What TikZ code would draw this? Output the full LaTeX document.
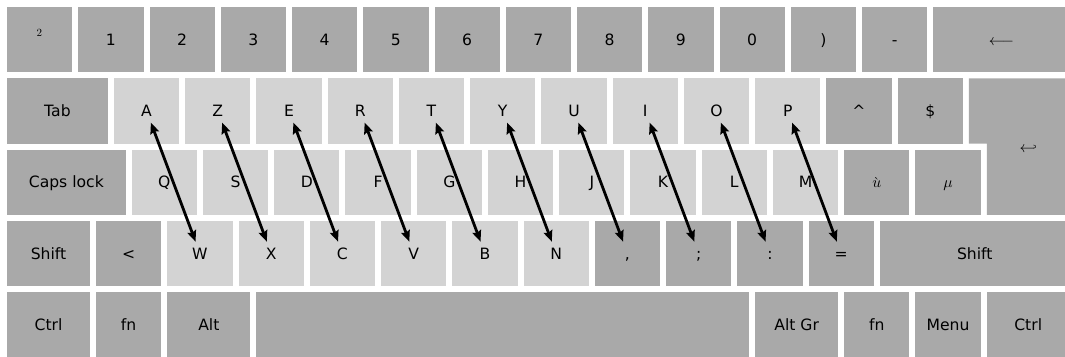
\documentclass[tikz,border=0pt]{standalone}
\usepackage{fontspec}
\setmainfont{DejaVu Sans}
\DeclareFontShape{OML}{cmm}{m}{it}{<->cmmi10}{}
\DeclareFontShape{OMS}{cmsy}{m}{n}{<->cmsy10}{}
\usetikzlibrary{arrows.meta}
\definecolor{keydark}{HTML}{A9A9A9}
\definecolor{keylight}{HTML}{D3D3D3}
\tikzset{
  keybox/.style={rectangle, inner sep=0pt, outer sep=0pt, draw=none, minimum height=65.25pt},
  keylabel/.style={font=\fontsize{15.6}{18}\selectfont, text=black, text height=11.4pt, text depth=0pt,
    inner sep=0pt, minimum height=23pt, minimum width=16pt},
  conn/.style={{Stealth[length=11pt,width=9pt,inset=1.5pt]}-{Stealth[length=11pt,width=9pt,inset=1.5pt]}, line width=2.8pt, black}
}
\newcommand\kbkey[6]{%
  \pgfmathsetmacro\kbxx{7+#2*71.25}%
  \pgfmathsetmacro\kbyy{7+#3*71.25}%
  \pgfmathsetmacro\kbww{#4*71.25-6}%
  \node[keybox, fill=#5, minimum width=\kbww pt, anchor=north west] (k#1) at (\kbxx,\kbyy) {};
  \node[keylabel] (#1) at (k#1.center) {#6};
}
\begin{document}
\begin{tikzpicture}[x=1pt, y=-1pt]
\useasboundingbox (0,0) rectangle (1065,356);
\clip (0,0) rectangle (1065,356);
% row 0
\kbkey{sq}{0}{0}{1}{keydark}{\raisebox{3pt}{$^2$}\hspace{2pt}}
\kbkey{n1}{1}{0}{1}{keydark}{1}
\kbkey{n2}{2}{0}{1}{keydark}{2}
\kbkey{n3}{3}{0}{1}{keydark}{3}
\kbkey{n4}{4}{0}{1}{keydark}{4}
\kbkey{n5}{5}{0}{1}{keydark}{5}
\kbkey{n6}{6}{0}{1}{keydark}{6}
\kbkey{n7}{7}{0}{1}{keydark}{7}
\kbkey{n8}{8}{0}{1}{keydark}{8}
\kbkey{n9}{9}{0}{1}{keydark}{9}
\kbkey{n0}{10}{0}{1}{keydark}{0}
\kbkey{rpar}{11}{0}{1}{keydark}{)}
\kbkey{minus}{12}{0}{1}{keydark}{-}
\kbkey{back}{13}{0}{2}{keydark}{$\longleftarrow$}
% row 1
\kbkey{tab}{0}{1}{1.5}{keydark}{Tab}
\kbkey{A}{1.5}{1}{1}{keylight}{A}
\kbkey{Z}{2.5}{1}{1}{keylight}{Z}
\kbkey{E}{3.5}{1}{1}{keylight}{E}
\kbkey{R}{4.5}{1}{1}{keylight}{R}
\kbkey{T}{5.5}{1}{1}{keylight}{T}
\kbkey{Y}{6.5}{1}{1}{keylight}{Y}
\kbkey{U}{7.5}{1}{1}{keylight}{U}
\kbkey{I}{8.5}{1}{1}{keylight}{I}
\kbkey{O}{9.5}{1}{1}{keylight}{O}
\kbkey{P}{10.5}{1}{1}{keylight}{P}
\kbkey{circ}{11.5}{1}{1}{keydark}{\textasciicircum}
\kbkey{dollar}{12.5}{1}{1}{keydark}{\$}
% enter
\fill[keydark] (968.9,78.25) -- (1069.75,78.25) -- (1069.75,214.75) -- (986.75,214.75)
  -- (986.75,143.5) -- (968.9,143.5) -- cycle;
\node[keylabel] (enter) at (1028.25,146.5) {$\hookleftarrow$};
% row 2
\kbkey{caps}{0}{2}{1.75}{keydark}{Caps lock}
\kbkey{Q}{1.75}{2}{1}{keylight}{Q}
\kbkey{S}{2.75}{2}{1}{keylight}{S}
\kbkey{D}{3.75}{2}{1}{keylight}{D}
\kbkey{F}{4.75}{2}{1}{keylight}{F}
\kbkey{G}{5.75}{2}{1}{keylight}{G}
\kbkey{H}{6.75}{2}{1}{keylight}{H}
\kbkey{J}{7.75}{2}{1}{keylight}{J}
\kbkey{K}{8.75}{2}{1}{keylight}{K}
\kbkey{L}{9.75}{2}{1}{keylight}{L}
\kbkey{M}{10.75}{2}{1}{keylight}{M}
\kbkey{ugrave}{11.75}{2}{1}{keydark}{$\grave{u}$}
\kbkey{mu}{12.75}{2}{1}{keydark}{$\mu$}
% row 3
\kbkey{lshift}{0}{3}{1.25}{keydark}{Shift}
\kbkey{less}{1.25}{3}{1}{keydark}{<}
\kbkey{W}{2.25}{3}{1}{keylight}{W}
\kbkey{X}{3.25}{3}{1}{keylight}{X}
\kbkey{C}{4.25}{3}{1}{keylight}{C}
\kbkey{V}{5.25}{3}{1}{keylight}{V}
\kbkey{B}{6.25}{3}{1}{keylight}{B}
\kbkey{N}{7.25}{3}{1}{keylight}{N}
\kbkey{comma}{8.25}{3}{1}{keydark}{,}
\kbkey{semi}{9.25}{3}{1}{keydark}{;}
\kbkey{colon}{10.25}{3}{1}{keydark}{:}
\kbkey{equal}{11.25}{3}{1}{keydark}{=}
\kbkey{rshift}{12.25}{3}{2.75}{keydark}{Shift}
% row 4
\kbkey{lctrl}{0}{4}{1.25}{keydark}{Ctrl}
\kbkey{lfn}{1.25}{4}{1}{keydark}{fn}
\kbkey{alt}{2.25}{4}{1.25}{keydark}{Alt}
\kbkey{space}{3.5}{4}{7}{keydark}{}
\kbkey{altgr}{10.5}{4}{1.25}{keydark}{Alt Gr}
\kbkey{rfn}{11.75}{4}{1}{keydark}{fn}
\kbkey{menu}{12.75}{4}{1}{keydark}{Menu}
\kbkey{rctrl}{13.75}{4}{1.25}{keydark}{Ctrl}
% arrows
\draw[conn] (A) -- (W);
\draw[conn] (Z) -- (X);
\draw[conn] (E) -- (C);
\draw[conn] (R) -- (V);
\draw[conn] (T) -- (B);
\draw[conn] (Y) -- (N);
\draw[conn] (U) -- (comma);
\draw[conn] (I) -- (semi);
\draw[conn] (O) -- (colon);
\draw[conn] (P) -- (equal);
\end{tikzpicture}
\end{document}
